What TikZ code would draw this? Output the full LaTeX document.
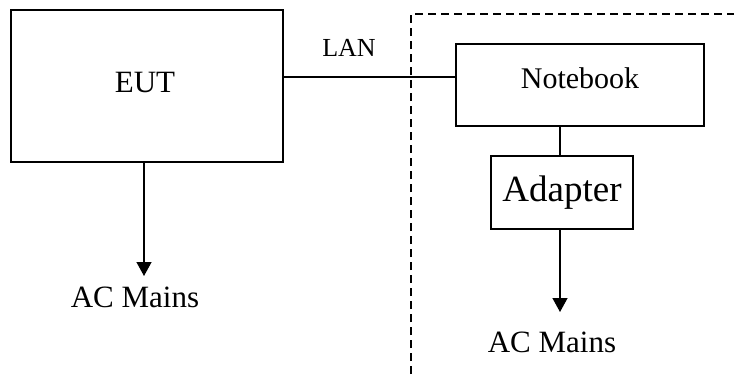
\documentclass[tikz,border=0pt]{standalone}
\usepackage{fontspec}
\setmainfont{Liberation Serif}
\usetikzlibrary{arrows.meta}
\begin{document}
\begin{tikzpicture}[x=1pt,y=-1pt,
  box/.style={draw,line width=1.3pt,inner sep=0pt},
  wire/.style={line width=1.3pt},
  feed/.style={line width=1.3pt,-{Triangle[width=15pt,length=14pt]}},
  lbl/.style={inner sep=0pt,font=\fontsize{31}{36}\selectfont}]
\useasboundingbox (0,0) rectangle (734,378);
% dashed enclosure
\draw[line width=1.3pt,dash pattern=on 8pt off 5pt] (411,400) -- (411,14) -- (760,14);
% boxes
\node[box,minimum width=272pt,minimum height=152pt] (eut) at (147,86) {};
\node[lbl] (euttext) at (145,82) {EUT};
\node[box,minimum width=248pt,minimum height=82pt] (nb) at (580,85) {};
\node[lbl,font=\fontsize{30}{36}\selectfont] (nbtext) at (580,78) {Notebook};
\node[box,minimum width=142pt,minimum height=73pt] (ad) at (562,192.5) {};
\node[lbl,font=\fontsize{37}{42}\selectfont] (adtext) at (562,193) {Adapter};
% labels
\node[lbl,font=\fontsize{26}{30}\selectfont] (lan) at (349,48) {LAN};
\node[lbl] (ac1) at (135,297) {AC Mains};
\node[lbl] (ac2) at (552,342) {AC Mains};
\coordinate (t1) at (144,276);
\coordinate (t2) at (560,312);
% connectors
\draw[wire] (eut.east |- 0,77) -- (nb.west |- 0,77);
\draw[wire] (nb.south -| 560,0) -- (ad.north -| 560,0);
\draw[feed] (eut.south -| 144,0) -- (t1);
\draw[feed] (ad.south -| 560,0) -- (t2);
\end{tikzpicture}
\end{document}
